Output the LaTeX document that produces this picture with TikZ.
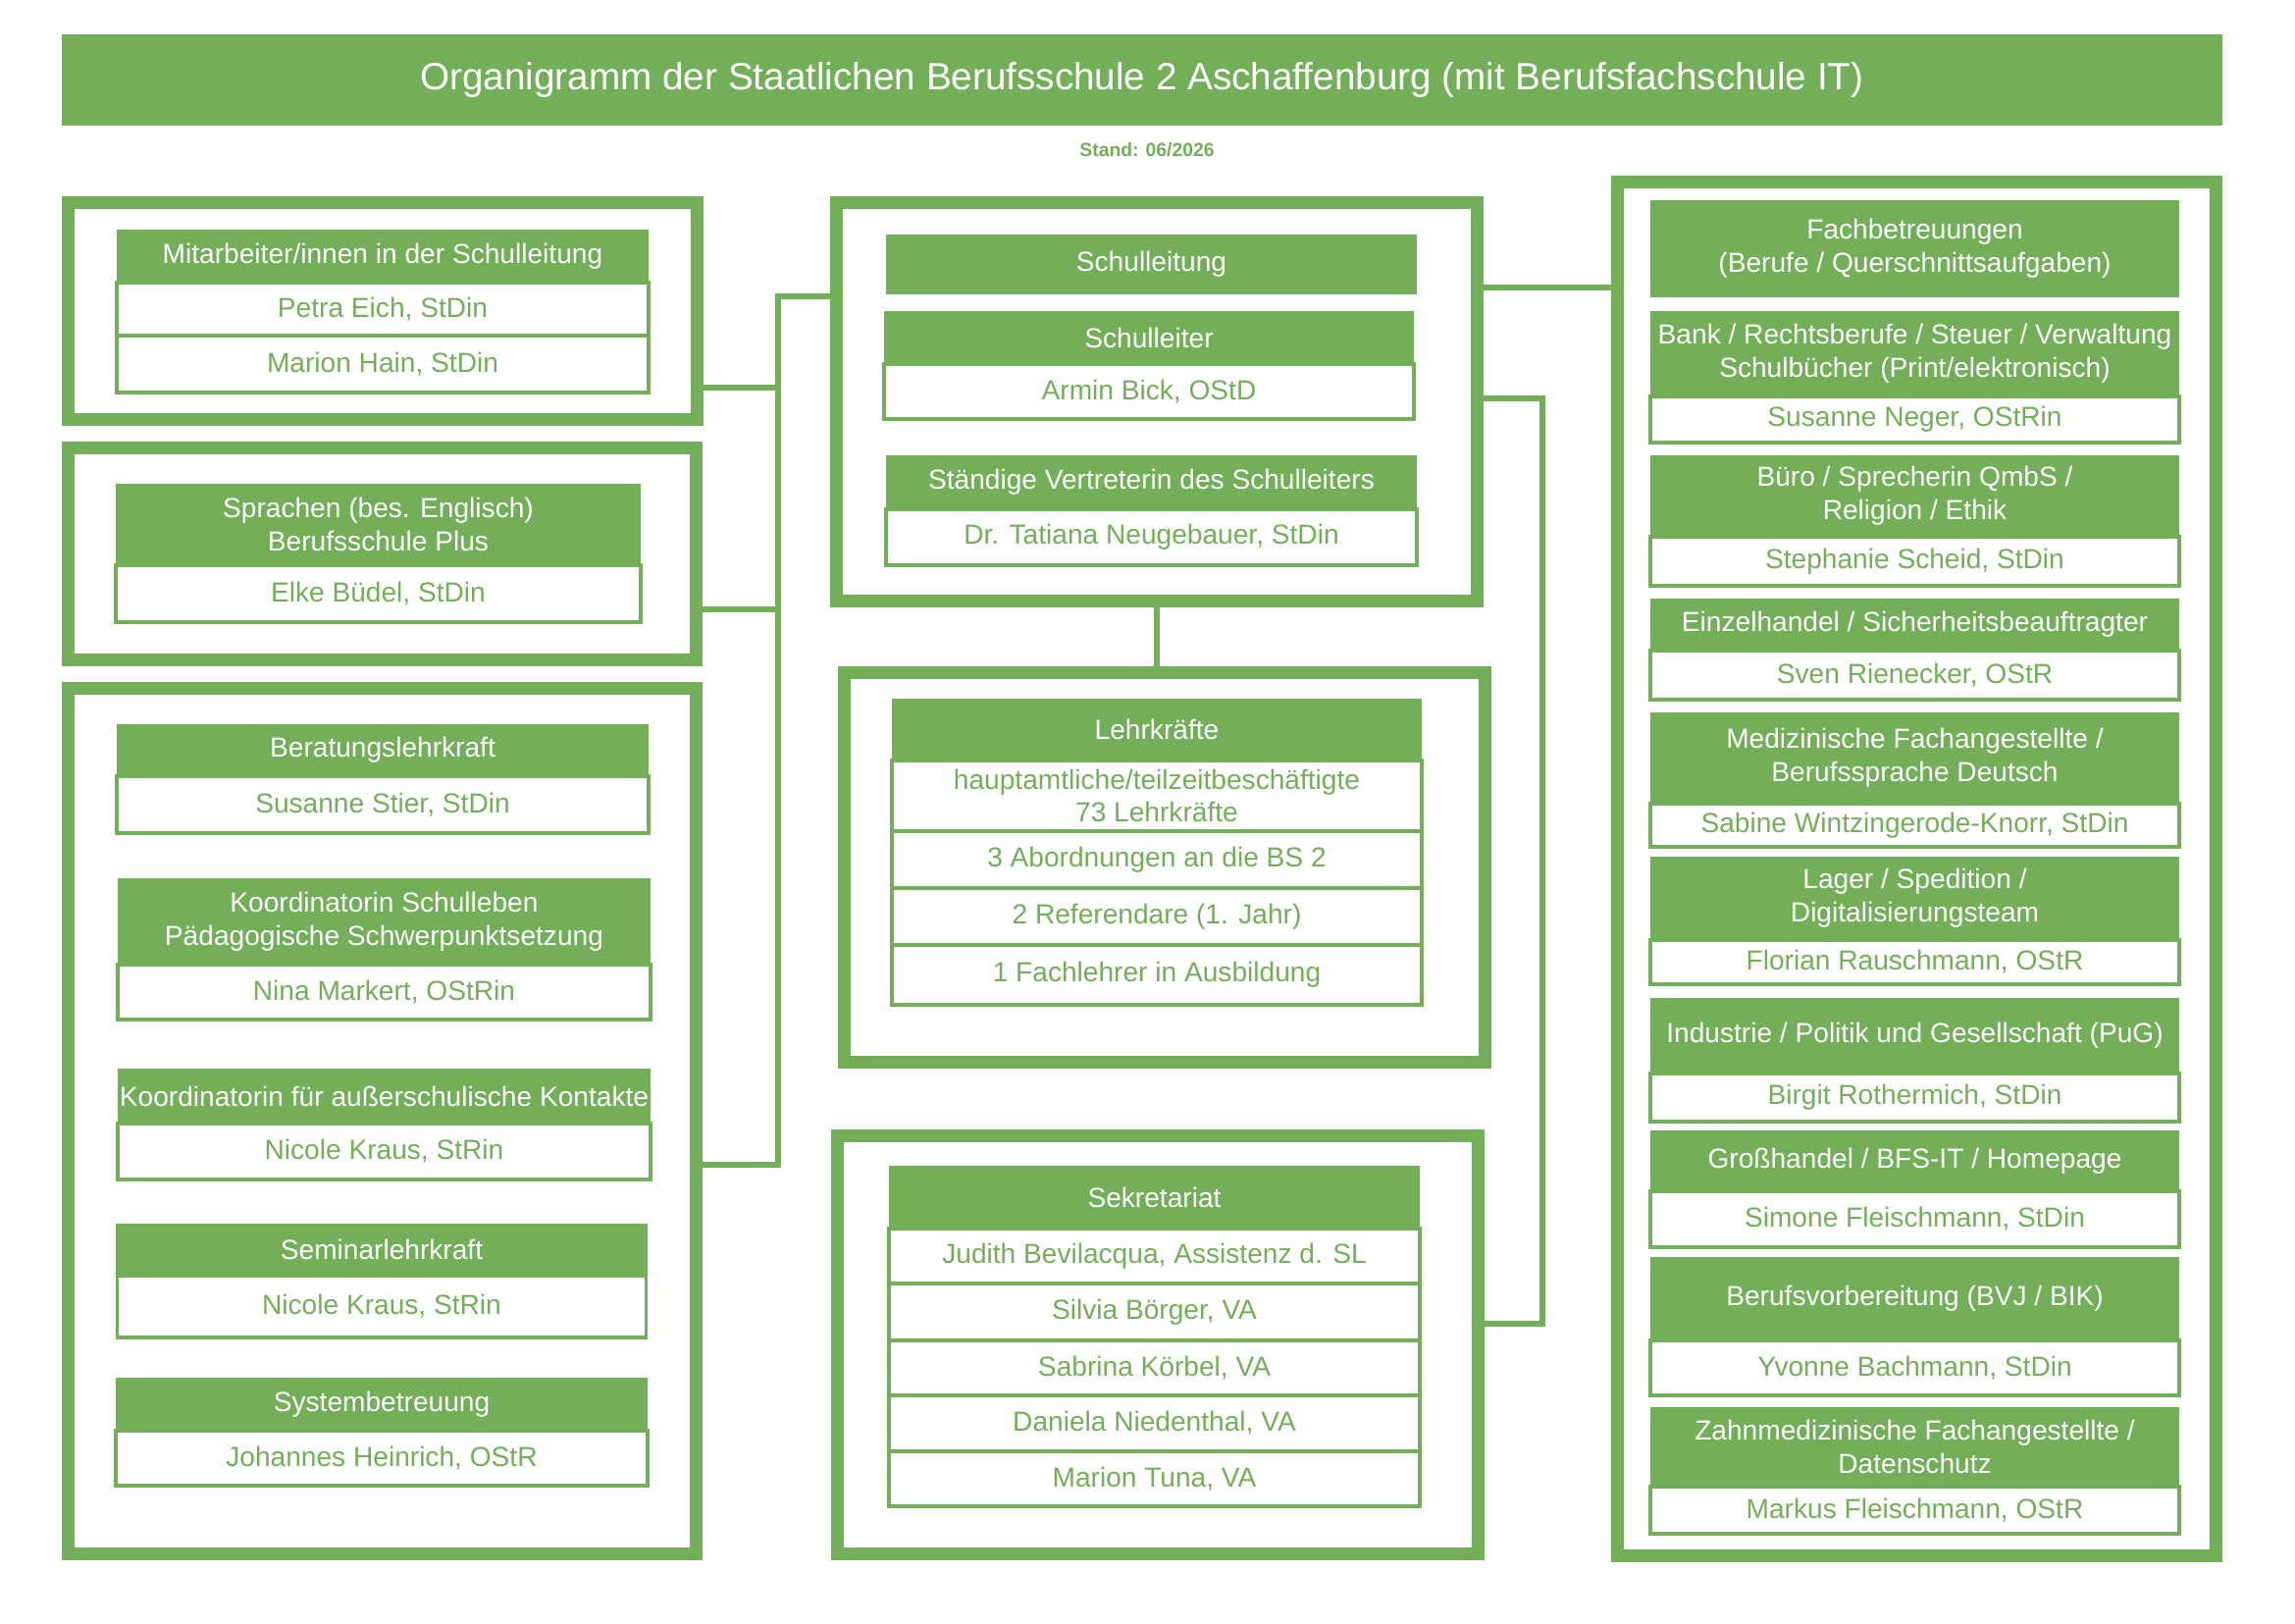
\documentclass[tikz,border=0pt]{standalone}
\usepackage{fontspec}
\setmainfont{Liberation Sans}
\usetikzlibrary{calc}
\definecolor{sbgreen}{RGB}{114,175,88}

\tikzset{
  frame/.style={draw=sbgreen, line width=0.13cm, fill=white, inner sep=0pt},
  head/.style={fill=sbgreen, text=white, align=center, inner sep=1pt, outer sep=0pt, anchor=north west,
    font=\fontsize{8}{9.6}\selectfont},
  entry/.style={draw=sbgreen, line width=0.035cm, fill=white, text=sbgreen, align=center,
    inner sep=1pt, outer sep=0pt, anchor=north, font=\fontsize{8}{9.6}\selectfont},
  conn/.style={draw=sbgreen, line width=0.06cm},
}

\begin{document}
\begin{tikzpicture}[x=1cm, y=-1cm]
\useasboundingbox (0,0) rectangle (23.39,16.54);
% Title
\node[fill=sbgreen, text=white, minimum width=22.02cm, minimum height=0.93cm, inner sep=0pt,
  font=\fontsize{11}{13}\selectfont] (title) at (11.64,0.815)
  {Organigramm der Staatlichen Berufsschule 2 Aschaffenburg (mit Berufsfachschule IT)};
\node[text=sbgreen, font=\bfseries\fontsize{5.5}{6.6}\selectfont] (stand) at (11.69,1.53) {Stand: 06/2026};

% Frames
\node[frame, minimum width=6.41cm, minimum height=2.205cm] (mitF) at (3.90,3.1675) {};
\node[frame, minimum width=6.40cm, minimum height=2.16cm] (sprF) at (3.895,5.645) {};
\node[frame, minimum width=6.40cm, minimum height=8.82cm] (berF) at (3.895,11.425) {};
\node[frame, minimum width=6.53cm, minimum height=4.06cm] (slF) at (11.79,4.095) {};
\node[frame, minimum width=6.53cm, minimum height=3.97cm] (lkF) at (11.87,8.84) {};
\node[frame, minimum width=6.53cm, minimum height=4.26cm] (sekF) at (11.80,13.705) {};
\node[frame, minimum width=6.10cm, minimum height=14.00cm] (fbF) at (19.535,8.855) {};

% Connectors left
\coordinate (trunk) at (7.93,3.02);
\coordinate (trunkEnd) at (7.93,11.87);
\coordinate (j1) at (7.93,3.95);
\coordinate (j2) at (7.93,6.21);
\draw[conn] (slF.west |- trunk) -- (trunk) -- (trunkEnd) -- (berF.east |- trunkEnd);
\draw[conn] (mitF.east |- j1) -- (j1);
\draw[conn] (sprF.east |- j2) -- (j2);
% Connectors right
\coordinate (f1) at (16.00,2.93);
\coordinate (r1) at (15.72,4.06);
\coordinate (r2) at (15.72,13.49);
\draw[conn] (slF.east |- f1) -- (fbF.west |- f1);
\draw[conn] (slF.east |- r1) -- (r1) -- (r2) -- (sekF.east |- r2);
\draw[conn] (slF.south) -- (slF.south |- lkF.north);

% Left column
\node[head, minimum width=5.42cm, minimum height=0.54cm] (mitH) at (1.19,2.34) {Mitarbeiter/innen in der Schulleitung};
\node[entry, minimum width=5.42cm, minimum height=0.54cm] (mitA) at (mitH.south) {Petra Eich, StDin};
\node[entry, minimum width=5.42cm, minimum height=0.58cm] (mitB) at (mitA.south) {Marion Hain, StDin};

\node[head, minimum width=5.35cm, minimum height=0.83cm] (sprH) at (1.18,4.93) {Sprachen (bes. Englisch)\\Berufsschule Plus};
\node[entry, minimum width=5.35cm, minimum height=0.58cm] (sprA) at (sprH.south) {Elke Büdel, StDin};

\node[head, minimum width=5.42cm, minimum height=0.53cm] (berH) at (1.19,7.38) {Beratungslehrkraft};
\node[entry, minimum width=5.42cm, minimum height=0.58cm] (berA) at (berH.south) {Susanne Stier, StDin};

\node[head, minimum width=5.43cm, minimum height=0.88cm] (koH) at (1.20,8.95) {Koordinatorin Schulleben\\Pädagogische Schwerpunktsetzung};
\node[entry, minimum width=5.43cm, minimum height=0.56cm] (koA) at (koH.south) {Nina Markert, OStRin};

\node[head, inner xsep=0pt, minimum width=5.43cm, minimum height=0.56cm] (akH) at (1.20,10.89) {Koordinatorin für außerschulische Kontakte};
\node[entry, minimum width=5.43cm, minimum height=0.57cm] (akA) at (akH.south) {Nicole Kraus, StRin};

\node[head, minimum width=5.42cm, minimum height=0.53cm] (semH) at (1.18,12.47) {Seminarlehrkraft};
\node[entry, minimum width=5.39cm, minimum height=0.63cm] (semA) at (semH.south) {Nicole Kraus, StRin};

\node[head, minimum width=5.42cm, minimum height=0.54cm] (sysH) at (1.18,14.04) {Systembetreuung};
\node[entry, minimum width=5.42cm, minimum height=0.56cm] (sysA) at (sysH.south) {Johannes Heinrich, OStR};

% Middle column
\node[head, minimum width=5.41cm, minimum height=0.61cm] (slH) at (9.03,2.39) {Schulleitung};
\node[head, minimum width=5.40cm, minimum height=0.54cm] (sltH) at (9.01,3.17) {Schulleiter};
\node[entry, minimum width=5.40cm, minimum height=0.56cm] (sltA) at (sltH.south) {Armin Bick, OStD};
\node[head, minimum width=5.41cm, minimum height=0.55cm] (svH) at (9.03,4.64) {Ständige Vertreterin des Schulleiters};
\node[entry, minimum width=5.41cm, minimum height=0.57cm] (svA) at (svH.south) {Dr. Tatiana Neugebauer, StDin};

\node[head, minimum width=5.40cm, minimum height=0.63cm] (lkH) at (9.09,7.12) {Lehrkräfte};
\node[entry, minimum width=5.40cm, minimum height=0.72cm] (lkA) at (lkH.south) {hauptamtliche/teilzeitbeschäftigte\\73 Lehrkräfte};
\node[entry, minimum width=5.40cm, minimum height=0.58cm] (lkB) at (lkA.south) {3 Abordnungen an die BS 2};
\node[entry, minimum width=5.40cm, minimum height=0.58cm] (lkC) at (lkB.south) {2 Referendare (1. Jahr)};
\node[entry, minimum width=5.40cm, minimum height=0.61cm] (lkD) at (lkC.south) {1 Fachlehrer in Ausbildung};

\node[head, minimum width=5.41cm, minimum height=0.64cm] (sekH) at (9.06,11.88) {Sekretariat};
\node[entry, minimum width=5.41cm, minimum height=0.56cm] (sekA) at (sekH.south) {Judith Bevilacqua, Assistenz d. SL};
\node[entry, minimum width=5.41cm, minimum height=0.58cm] (sekB) at (sekA.south) {Silvia Börger, VA};
\node[entry, minimum width=5.41cm, minimum height=0.56cm] (sekC) at (sekB.south) {Sabrina Körbel, VA};
\node[entry, minimum width=5.41cm, minimum height=0.57cm] (sekD) at (sekC.south) {Daniela Niedenthal, VA};
\node[entry, minimum width=5.41cm, minimum height=0.56cm] (sekE) at (sekD.south) {Marion Tuna, VA};

% Right column
\node[head, minimum width=5.39cm, minimum height=0.99cm] (fbH) at (16.82,2.04) {Fachbetreuungen\\(Berufe / Querschnittsaufgaben)};
\node[head, minimum width=5.39cm, minimum height=0.87cm] (bankH) at (16.82,3.17) {Bank / Rechtsberufe / Steuer / Verwaltung\\Schulbücher (Print/elektronisch)};
\node[entry, minimum width=5.39cm, minimum height=0.47cm] (bankA) at (bankH.south) {Susanne Neger, OStRin};
\node[head, minimum width=5.39cm, minimum height=0.83cm] (bueH) at (16.82,4.64) {Büro / Sprecherin QmbS /\\Religion / Ethik};
\node[entry, minimum width=5.39cm, minimum height=0.50cm] (bueA) at (bueH.south) {Stephanie Scheid, StDin};
\node[head, minimum width=5.39cm, minimum height=0.53cm] (ehH) at (16.82,6.10) {Einzelhandel / Sicherheitsbeauftragter};
\node[entry, minimum width=5.39cm, minimum height=0.50cm] (ehA) at (ehH.south) {Sven Rienecker, OStR};
\node[head, minimum width=5.39cm, minimum height=0.93cm] (medH) at (16.82,7.26) {Medizinische Fachangestellte /\\Berufssprache Deutsch};
\node[entry, minimum width=5.39cm, minimum height=0.44cm] (medA) at (medH.south) {Sabine Wintzingerode-Knorr, StDin};
\node[head, minimum width=5.39cm, minimum height=0.85cm] (lagH) at (16.82,8.73) {Lager / Spedition /\\Digitalisierungsteam};
\node[entry, minimum width=5.39cm, minimum height=0.45cm] (lagA) at (lagH.south) {Florian Rauschmann, OStR};
\node[head, minimum width=5.39cm, minimum height=0.77cm] (indH) at (16.82,10.17) {Industrie / Politik und Gesellschaft (PuG)};
\node[entry, minimum width=5.39cm, minimum height=0.49cm] (indA) at (indH.south) {Birgit Rothermich, StDin};
\node[head, minimum width=5.39cm, minimum height=0.62cm] (ghH) at (16.82,11.52) {Großhandel / BFS-IT / Homepage};
\node[entry, minimum width=5.39cm, minimum height=0.57cm] (ghA) at (ghH.south) {Simone Fleischmann, StDin};
\node[head, minimum width=5.39cm, minimum height=0.85cm] (bvH) at (16.82,12.81) {Berufsvorbereitung (BVJ / BIK)};
\node[entry, minimum width=5.39cm, minimum height=0.56cm] (bvA) at (bvH.south) {Yvonne Bachmann, StDin};
\node[head, minimum width=5.39cm, minimum height=0.81cm] (zmH) at (16.82,14.34) {Zahnmedizinische Fachangestellte /\\Datenschutz};
\node[entry, minimum width=5.39cm, minimum height=0.48cm] (zmA) at (zmH.south) {Markus Fleischmann, OStR};
\end{tikzpicture}
\end{document}
